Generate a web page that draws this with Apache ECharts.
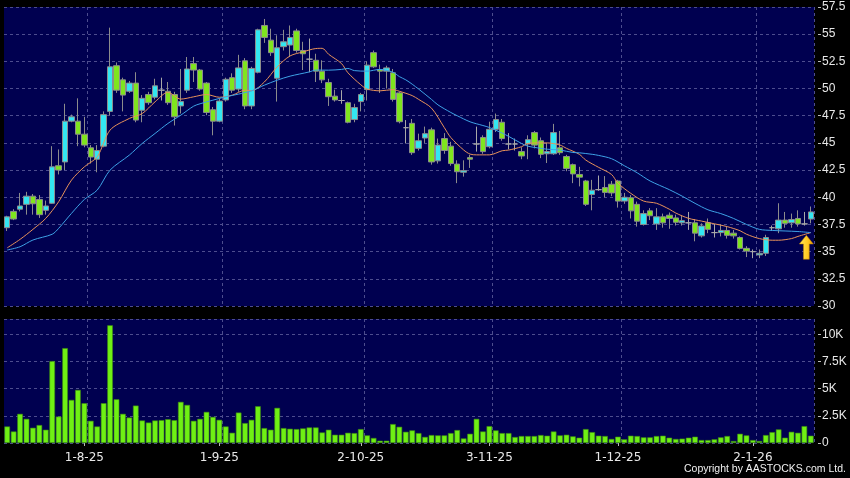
<!DOCTYPE html>
<html><head><meta charset="utf-8">
<script src="https://cdn.jsdelivr.net/npm/echarts@6/dist/echarts.min.js"></script>
<style>html,body{margin:0;padding:0;background:#000;}#c{width:850px;height:478px;}</style>
</head><body><div id="c"></div>
<script>
const dates = [
'16-7-25','17-7-25','18-7-25','21-7-25','22-7-25','23-7-25','24-7-25','25-7-25','28-7-25','29-7-25','30-7-25','31-7-25',
'1-8-25','4-8-25','5-8-25','6-8-25','7-8-25','8-8-25','11-8-25','12-8-25','13-8-25','14-8-25','15-8-25','18-8-25','19-8-25','20-8-25','21-8-25','22-8-25','25-8-25','26-8-25','27-8-25','28-8-25','29-8-25',
'1-9-25','2-9-25','3-9-25','4-9-25','5-9-25','8-9-25','9-9-25','10-9-25','11-9-25','12-9-25','15-9-25','16-9-25','17-9-25','18-9-25','19-9-25','22-9-25','23-9-25','24-9-25','25-9-25','26-9-25','29-9-25','30-9-25',
'2-10-25','3-10-25','6-10-25','8-10-25','9-10-25','10-10-25','13-10-25','14-10-25','15-10-25','16-10-25','17-10-25','20-10-25','21-10-25','22-10-25','23-10-25','24-10-25','27-10-25','28-10-25','30-10-25','31-10-25',
'3-11-25','4-11-25','5-11-25','6-11-25','7-11-25','10-11-25','11-11-25','12-11-25','13-11-25','14-11-25','17-11-25','18-11-25','19-11-25','20-11-25','21-11-25','24-11-25','25-11-25','26-11-25','27-11-25','28-11-25',
'1-12-25','2-12-25','3-12-25','4-12-25','5-12-25','8-12-25','9-12-25','10-12-25','11-12-25','12-12-25','15-12-25','16-12-25','17-12-25','18-12-25','19-12-25','22-12-25','23-12-25','24-12-25','29-12-25','30-12-25','31-12-25',
'2-1-26','5-1-26','6-1-26','7-1-26','8-1-26','9-1-26','12-1-26','13-1-26','14-1-26','15-1-26'];
const tickLabels = ['1-8-25','1-9-25','2-10-25','3-11-25','1-12-25','2-1-26'];

const openP = [37.2,38.7,38.9,39.35,40.1,39.8,38.8,39.45,42.9,43.25,47.0,47.0,45.8,44.55,43.5,44.7,47.9,52.1,50.8,49.75,
50.5,48.0,49.45,49.2,49.85,49.75,49.45,48.4,49.85,52.3,51.7,50.5,48.05,47.0,48.95,51.0,49.95,52.55,48.4,51.5,
55.8,54.45,50.95,53.85,54.0,55.3,53.5,52.7,52.6,51.6,50.55,49.3,48.9,48.7,47.15,48.8,49.9,53.3,51.75,51.6,
51.45,49.6,46.4,46.8,44.5,45.45,46.2,43.35,45.4,44.7,43.05,42.3,43.65,44.9,45.5,44.65,46.25,46.9,44.9,44.9,
44.2,44.9,45.95,45.2,44.0,44.0,44.55,43.75,43.0,42.1,41.5,40.25,40.7,40.9,41.2,41.5,39.65,39.95,39.35,37.5,
38.75,37.55,38.2,38.35,38.1,37.65,37.65,37.65,36.45,37.65,36.75,36.75,36.95,36.7,36.3,35.3,35.0,34.7,34.85,37.2,
37.1,37.9,37.65,38.05,37.55,38.0];
const closeP = [38.2,38.0,39.2,40.1,39.4,38.4,39.2,42.8,42.5,47.0,47.4,45.8,44.8,43.7,44.3,47.6,52.0,49.85,49.4,50.5,
47.1,49.1,48.7,50.25,49.85,48.7,47.4,48.8,51.8,51.7,49.95,47.8,47.0,48.85,50.85,49.85,51.9,48.4,51.85,55.4,
54.7,53.3,53.75,54.3,54.7,53.5,53.2,52.7,51.6,50.8,49.25,48.95,48.9,46.9,48.25,49.45,52.15,52.0,51.6,51.9,
49.0,46.95,46.4,44.1,45.2,45.85,43.25,44.8,44.3,43.1,42.35,42.45,43.5,44.9,44.2,46.25,47.15,45.4,44.9,44.9,
43.8,45.3,44.8,43.95,44.2,45.95,44.1,42.65,42.15,41.85,39.35,40.65,40.7,40.45,40.4,39.65,40.0,38.75,37.8,38.5,
38.3,38.2,37.65,38.05,37.7,37.85,37.65,36.7,37.35,37.05,36.75,36.95,36.5,36.45,35.3,35.05,35.0,34.85,36.3,37.2,
37.9,37.6,37.95,37.55,37.55,38.65];
const lowP = [36.9,37.9,38.7,38.4,38.4,38.1,38.4,39.4,42.1,42.5,46.9,44.7,44.6,43.1,42.3,44.6,47.5,49.6,47.9,49.6,
46.9,46.9,48.5,49.0,48.9,48.5,46.6,47.7,49.6,50.6,49.8,47.55,45.7,46.9,48.8,49.6,49.7,48.1,48.1,51.4,
54.2,53.0,48.8,53.5,52.9,53.3,51.7,51.5,50.6,50.5,48.4,48.8,48.6,46.8,46.9,47.9,48.9,51.9,49.6,50.0,
48.8,46.8,44.95,43.9,44.3,45.0,43.0,43.1,44.0,42.9,41.3,41.9,42.7,44.2,44.0,44.5,46.0,45.2,44.4,44.3,
43.5,43.5,44.5,43.6,43.15,43.9,43.9,42.4,41.3,41.0,39.2,38.8,40.6,40.0,40.1,39.05,39.4,38.05,37.3,37.4,
37.9,37.0,37.2,37.1,37.4,37.4,37.0,35.95,36.3,36.7,36.3,36.4,36.2,36.2,35.2,34.5,34.4,34.4,34.6,36.9,
36.7,37.2,37.2,37.3,37.4,37.6];
const highP = [38.3,38.9,40.4,40.5,40.3,40.2,39.7,44.7,44.4,48.6,47.6,49.1,47.4,44.8,44.8,47.9,55.6,52.4,51.0,50.7,
51.5,49.4,49.7,50.9,51.0,50.6,49.7,51.8,52.9,52.9,51.8,50.6,48.3,49.1,51.0,51.4,53.1,52.8,52.0,55.5,
56.4,55.5,54.9,55.4,55.8,55.5,54.3,54.6,53.2,52.6,50.9,49.9,49.85,48.8,48.6,49.6,52.5,53.5,52.2,52.1,
51.8,49.7,47.1,47.2,45.85,46.5,46.4,45.4,45.9,45.1,43.4,43.4,43.9,46.5,45.7,46.95,47.7,47.2,45.9,45.4,
44.6,45.7,46.1,45.5,45.0,46.75,46.1,43.9,43.1,42.8,41.6,41.6,42.0,41.95,41.5,41.6,40.4,40.2,39.6,38.8,
39.0,39.0,38.5,38.6,38.4,38.3,38.65,38.0,37.6,38.05,37.55,37.5,37.3,37.0,36.4,35.5,35.2,35.2,36.55,37.4,
39.45,38.65,38.5,38.8,38.65,39.15];
const volumeK = [1.52,1.06,2.68,2.22,1.40,1.65,1.22,7.53,2.43,8.72,3.96,4.88,3.66,2.04,1.52,3.66,10.82,4.02,2.68,2.34,
3.44,2.07,1.88,2.07,2.10,2.19,2.10,3.78,3.50,2.04,2.22,2.86,2.40,2.13,1.52,0.94,2.80,1.83,2.13,3.38,
1.37,1.22,3.23,1.37,1.31,1.28,1.34,1.43,1.43,0.97,1.22,0.76,0.76,0.94,0.91,1.28,0.70,0.46,0.21,0.21,
1.74,1.49,1.03,1.16,0.91,0.56,0.73,0.70,0.70,0.91,1.19,0.42,0.85,2.22,1.06,1.55,1.16,0.91,0.91,0.55,
0.64,0.64,0.64,0.73,0.67,1.06,0.70,0.76,0.61,0.49,1.28,1.00,0.67,0.64,0.37,0.58,0.34,0.67,0.64,0.52,
0.52,0.64,0.67,0.49,0.37,0.40,0.49,0.58,0.27,0.27,0.34,0.52,0.64,0.18,0.85,0.70,0.27,0.18,0.73,1.00,
1.25,0.49,1.03,0.94,1.55,0.67];
const maShortAt = [0,2,4,6,8,10,12,14,16,19,21,23,25,27,29,31,33,35,37,38,40,42,44,46,48,49,50,52,53,55,56,58,60,61,63,64,66,68,69,71,72,73,75,77,78,80,81,83,84,86,87,89,90,92,94,95,97,99,101,103,104,106,108,110,112,114,115,117,119,120,122,123,125];
const maShortVal = [35.35,36.13,37.05,38.06,39.59,41.58,42.8,43.72,46.18,47.25,47.7,48.78,49.65,49.03,49.24,49.45,49.2,49.39,49.85,49.8,50.6,52.0,53.0,53.37,53.68,53.7,53.15,52.3,51.45,50.35,49.95,49.79,49.9,49.75,49.35,49.0,48.2,46.4,45.5,44.35,43.97,43.9,43.9,44.28,44.34,44.65,44.95,45.0,45.0,44.8,44.5,43.95,43.42,42.75,42.1,41.3,40.36,39.65,39.45,38.9,38.55,38.06,37.81,37.56,37.3,36.92,36.6,36.2,36.05,36.05,36.2,36.4,36.75];
const maLongAt = [0,2,4,7,8,10,12,14,16,19,21,23,25,27,29,30,32,34,36,38,40,42,44,47,48,50,52,53,54,56,58,60,61,62,63,64,66,67,69,70,72,74,75,77,78,80,81,83,84,86,88,89,91,92,94,96,98,100,103,105,107,109,111,113,115,117,119,121,123,125];
const maLongVal = [35.15,35.45,36.07,36.6,37.14,38.52,39.8,40.66,42.5,43.88,44.95,45.87,46.79,47.55,48.38,48.6,48.93,49.24,49.49,49.79,50.31,50.77,51.14,51.53,51.7,51.69,51.76,51.85,51.65,51.6,51.76,51.5,51.1,50.8,50.4,49.95,49.0,48.5,47.8,47.5,46.94,46.6,46.42,45.9,45.6,44.95,44.7,44.5,44.42,44.34,44.12,44.09,43.95,43.85,43.55,42.9,42.25,41.5,40.7,40.1,39.44,38.85,38.5,38.05,37.5,37.05,36.95,36.9,36.85,36.75];
const priceMin = 30, priceMax = 57.5, priceStep = 2.5;
const volMin = 0, volMax = 11.4, volStep = 2.5;
const arrowIndex = 124, arrowPrice = 35.4;

const labelIdx = new Set(tickLabels.map(t => dates.indexOf(t)));
const gridLine = {color:'#4d4d8e', type:[3,3], width:1};
const UP = '#33E6F2', DOWN = '#7FE51E', EDGE = '#8c8c8c', DOJI = '#a8a8a8';

const candles = dates.map((d,i) => {
  const v = [openP[i], closeP[i], lowP[i], highP[i]];
  if (openP[i] === closeP[i]) {
    return {value: v, itemStyle: {color: DOJI, color0: DOJI, borderColor: DOJI, borderColor0: DOJI, borderColorDoji: DOJI}};
  }
  return v;
});
const maShort = maShortAt.map((k,j) => [k, maShortVal[j]]);
const maLong = maLongAt.map((k,j) => [k, maLongVal[j]]);

const chart = echarts.init(document.getElementById('c'), null, {renderer:'canvas'});
const xBase = {type:'category', data: dates, boundaryGap: true, axisLine:{show:false}};
chart.setOption({
  animation: false,
  backgroundColor: '#000',
  grid: [
    {left:4, right:36, top:7, height:299, show:true, backgroundColor:'#000050', borderWidth:0, outerBoundsMode:'none'},
    {left:4, right:36, top:319, height:124, show:true, backgroundColor:'#000050', borderWidth:0, outerBoundsMode:'none'}
  ],
  xAxis: [
    Object.assign({}, xBase, {gridIndex:0, axisTick:{show:false}, axisLabel:{show:false},
      splitLine:{show:true, interval:(i)=>labelIdx.has(i-1), lineStyle:gridLine}}),
    Object.assign({}, xBase, {gridIndex:1, offset:3,
      axisTick:{show:true, alignWithLabel:true, interval:(i)=>labelIdx.has(i), length:3, lineStyle:{color:'#bbbbbb'}},
      axisLabel:{show:true, interval:(i)=>labelIdx.has(i), color:'#e8e8e8', fontFamily:'DejaVu Sans', fontSize:12, margin:6},
      splitLine:{show:true, interval:(i)=>labelIdx.has(i-1), lineStyle:gridLine}})
  ],
  yAxis: [
    {type:'value', gridIndex:0, position:'right', offset:4, min:priceMin, max:priceMax, interval:priceStep,
     axisLine:{show:false}, axisTick:{show:true, length:3, lineStyle:{color:'#bbbbbb'}},
     axisLabel:{color:'#e8e8e8', fontFamily:'Liberation Sans', fontSize:12, margin:4},
     splitLine:{show:true, lineStyle:gridLine}},
    {type:'value', gridIndex:1, position:'right', offset:4, min:volMin, max:volMax, interval:volStep,
     axisLine:{show:false}, axisTick:{show:true, length:3, lineStyle:{color:'#bbbbbb'}},
     axisLabel:{color:'#e8e8e8', fontFamily:'Liberation Sans', fontSize:12, margin:4, showMaxLabel:false,
       formatter:(v)=> v===0 ? '0' : (Math.abs(v/volStep - Math.round(v/volStep))<1e-6 ? v+'K' : '')},
     splitLine:{show:true, lineStyle:gridLine}}
  ],
  series: [
    {type:'candlestick', xAxisIndex:0, yAxisIndex:0, data:candles, barWidth:6,
     itemStyle:{color:UP, color0:DOWN, borderColor:EDGE, borderColor0:EDGE, borderColorDoji:DOJI, borderWidth:1},
     markPoint:{silent:true, label:{show:false},
       data:[{coord:[arrowIndex, arrowPrice], symbol:'path://M6,0 L12,8 L8.5,8 L8.5,22 L3.5,22 L3.5,8 L0,8 Z',
         symbolSize:[14,24], symbolOffset:[2,0],
         itemStyle:{color:new echarts.graphic.LinearGradient(0,0,1,0,[{offset:0,color:'#FFE85A'},{offset:0.6,color:'#FFC820'},{offset:1,color:'#E89A00'}]), borderColor:'#B87800', borderWidth:0.5}}]}},
    {type:'line', xAxisIndex:0, yAxisIndex:0, data:maShort, showSymbol:false, smooth:0.3,
     lineStyle:{color:'#E8925A', width:1}, z:3},
    {type:'line', xAxisIndex:0, yAxisIndex:0, data:maLong, showSymbol:false, smooth:0.3,
     lineStyle:{color:'#3EA2E6', width:1}, z:3},
    {type:'bar', xAxisIndex:1, yAxisIndex:1, data:volumeK, barWidth:5.6,
     itemStyle:{color:'#6FF014', borderColor:'#3E8C10', borderWidth:0.6}}
  ],
  graphic: [
    {type:'text', right:4, bottom:3, style:{text:'Copyright by AASTOCKS.com Ltd.', fill:'#f0f0f0', font:'10.5px "Liberation Sans"'}}
  ]
});
</script></body></html>
